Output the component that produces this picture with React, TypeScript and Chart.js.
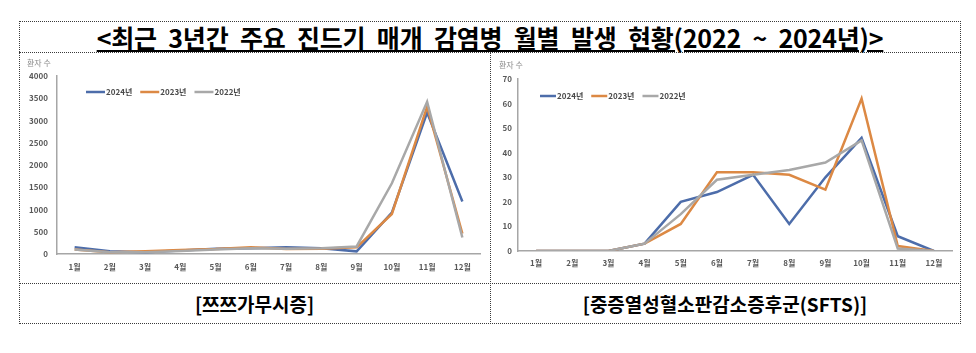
import React, { useEffect, useRef } from "react";
import { Chart, registerables } from "chart.js";

Chart.register(...registerables);

const MONTHS = ["1월", "2월", "3월", "4월", "5월", "6월", "7월", "8월", "9월", "10월", "11월", "12월"];
const SERIES_LABELS = ["2024년", "2023년", "2022년"];
const SERIES_COLORS = ["#4d6daa", "#dc8944", "#a8a8a8"];

const TSUTSU_2024 = [150, 60, 40, 80, 120, 130, 150, 130, 60, 930, 3180, 1180];
const TSUTSU_2023 = [100, 40, 60, 90, 110, 150, 110, 120, 150, 900, 3310, 460];
const TSUTSU_2022 = [100, 40, 40, 70, 100, 130, 120, 130, 170, 1590, 3420, 370];

const SFTS_2024 = [0, 0, 0, 3, 20, 24, 31, 11, 30, 46, 6, 0];
const SFTS_2023 = [0, 0, 0, 3, 11, 32, 32, 31, 25, 62, 2, 0];
const SFTS_2022 = [0, 0, 0, 3, 15, 29, 31, 33, 36, 45, 1, 0];

const TSUTSU_MAX = 4000;
const TSUTSU_STEP = 500;
const SFTS_MAX = 70;
const SFTS_STEP = 10;

const Y_TITLE = "환자 수";
const MAIN_TITLE = "<최근 3년간 주요 진드기 매개 감염병 월별 발생 현황(2022 ~ 2024년)>";
const CAPTION_LEFT = "[쯔쯔가무시증]";
const CAPTION_RIGHT = "[중증열성혈소판감소증후군(SFTS)]";

const FONT = "'Noto Sans CJK KR', 'Noto Sans', sans-serif";

const overlayPlugin = {
  id: "overlay",
  afterDraw(chart: any, _args: any, opts: any) {
    const { ctx, chartArea } = chart;
    ctx.save();
    ctx.textBaseline = "middle";
    ctx.textAlign = "left";
    ctx.font = `8px ${FONT}`;
    ctx.fillStyle = "#8a8a8a";
    ctx.fillText(Y_TITLE, chartArea.left + opts.titleDx, chartArea.top + opts.titleDy);

    let x = chartArea.left + opts.legendDx;
    const y = chartArea.top + opts.legendDy;
    ctx.font = `bold 8px ${FONT}`;
    chart.data.datasets.forEach((ds: any) => {
      ctx.strokeStyle = ds.borderColor;
      ctx.lineWidth = 2.5;
      ctx.beginPath();
      ctx.moveTo(x, y);
      ctx.lineTo(x + opts.lineLen, y);
      ctx.stroke();
      x += opts.lineLen + 1;
      ctx.fillStyle = "#4a4a4a";
      ctx.fillText(ds.label, x, y);
      x += ctx.measureText(ds.label).width + opts.gap;
    });
    ctx.restore();
  },
};

type ChartProps = {
  series: number[][];
  max: number;
  step: number;
  yWidth: number;
  xHeight: number;
  padTop: number;
  padRight: number;
  yPad: number;
  xPad: number;
  overlay: any;
  width: number;
  height: number;
};

function LineChart(p: ChartProps) {
  const ref = useRef<HTMLCanvasElement | null>(null);
  useEffect(() => {
    if (!ref.current) return;
    const tickFont = { family: FONT, size: 8, weight: "bold" as const };
    const chart = new Chart(ref.current, {
      type: "line",
      data: {
        labels: MONTHS,
        datasets: p.series.map((data, i) => ({
          label: SERIES_LABELS[i],
          data,
          borderColor: SERIES_COLORS[i],
          backgroundColor: SERIES_COLORS[i],
          borderWidth: 2.5,
          pointRadius: 0,
          tension: 0,
          fill: false,
          order: 2 - i,
        })),
      },
      options: {
        responsive: false,
        animation: false,
        devicePixelRatio: 1,
        layout: { padding: { top: p.padTop, right: p.padRight, left: 0, bottom: 0 } },
        plugins: {
          legend: { display: false },
          tooltip: { enabled: false },
          overlay: p.overlay,
        } as any,
        scales: {
          x: {
            offset: true,
            grid: { display: false, drawTicks: false },
            border: { display: true, color: "#a6a6a6", width: 1.5 },
            ticks: { font: tickFont, color: "#595959", padding: p.xPad, maxRotation: 0, autoSkip: false },
            afterFit: (s: any) => {
              s.height = p.xHeight;
            },
          },
          y: {
            min: 0,
            max: p.max,
            grid: { display: false, drawTicks: false },
            border: { display: true, color: "#a6a6a6", width: 1.5 },
            ticks: {
              stepSize: p.step,
              font: tickFont,
              color: "#595959",
              padding: p.yPad,
              callback: (v: any) => String(v),
            },
            afterFit: (s: any) => {
              s.width = p.yWidth;
            },
          },
        },
      },
      plugins: [overlayPlugin],
    });
    return () => chart.destroy();
  }, []);
  return <canvas ref={ref} width={p.width} height={p.height} style={{ display: "block" }} />;
}

const line = "1px dotted #3a3a3a";

export default function App() {
  return (
    <div style={{ position: "absolute", left: 0, top: 0, width: 976, height: 353, background: "#fff", fontFamily: FONT }}>
      {/* outer box */}
      <div style={{ position: "absolute", left: 19, top: 21, width: 942, height: 303, border: line, boxSizing: "border-box" }} />
      {/* horizontal dividers */}
      <div style={{ position: "absolute", left: 19, top: 52, width: 942, height: 0, borderTop: line }} />
      <div style={{ position: "absolute", left: 19, top: 283, width: 942, height: 0, borderTop: line }} />
      {/* vertical divider */}
      <div style={{ position: "absolute", left: 490, top: 52, width: 0, height: 272, borderLeft: line }} />

      {/* title */}
      <div style={{ position: "absolute", left: 19, top: 21, width: 942, height: 31, display: "flex", alignItems: "center", justifyContent: "center" }}>
        <span style={{ fontSize: 25, fontWeight: 700, color: "#000", textDecoration: "underline", textUnderlineOffset: 2, whiteSpace: "nowrap", lineHeight: "28px", letterSpacing: -0.2, wordSpacing: 6 }}>
          {MAIN_TITLE}
        </span>
      </div>

      {/* charts */}
      <div style={{ position: "absolute", left: 19, top: 52 }}>
        <LineChart
          series={[TSUTSU_2024, TSUTSU_2023, TSUTSU_2022]}
          max={TSUTSU_MAX}
          step={TSUTSU_STEP}
          width={471}
          height={231}
          yWidth={38}
          xHeight={29}
          padTop={24}
          padRight={10}
          yPad={9}
          xPad={8}
          overlay={{ titleDx: -30, titleDy: -13, legendDx: 29, legendDy: 16, lineLen: 19, gap: 8 }}
        />
      </div>
      <div style={{ position: "absolute", left: 490, top: 52 }}>
        <LineChart
          series={[SFTS_2024, SFTS_2023, SFTS_2022]}
          max={SFTS_MAX}
          step={SFTS_STEP}
          width={470}
          height={231}
          yWidth={28}
          xHeight={32}
          padTop={27}
          padRight={8}
          yPad={6}
          xPad={7}
          overlay={{ titleDx: -19, titleDy: -14, legendDx: 22, legendDy: 17, lineLen: 16, gap: 8 }}
        />
      </div>

      {/* captions */}
      <div style={{ position: "absolute", left: 19, top: 284, width: 471, height: 39, display: "flex", alignItems: "center", justifyContent: "center", fontSize: 19, fontWeight: 700, color: "#000" }}>
        {CAPTION_LEFT}
      </div>
      <div style={{ position: "absolute", left: 490, top: 284, width: 470, height: 39, display: "flex", alignItems: "center", justifyContent: "center", fontSize: 19, fontWeight: 700, color: "#000" }}>
        {CAPTION_RIGHT}
      </div>
    </div>
  );
}
